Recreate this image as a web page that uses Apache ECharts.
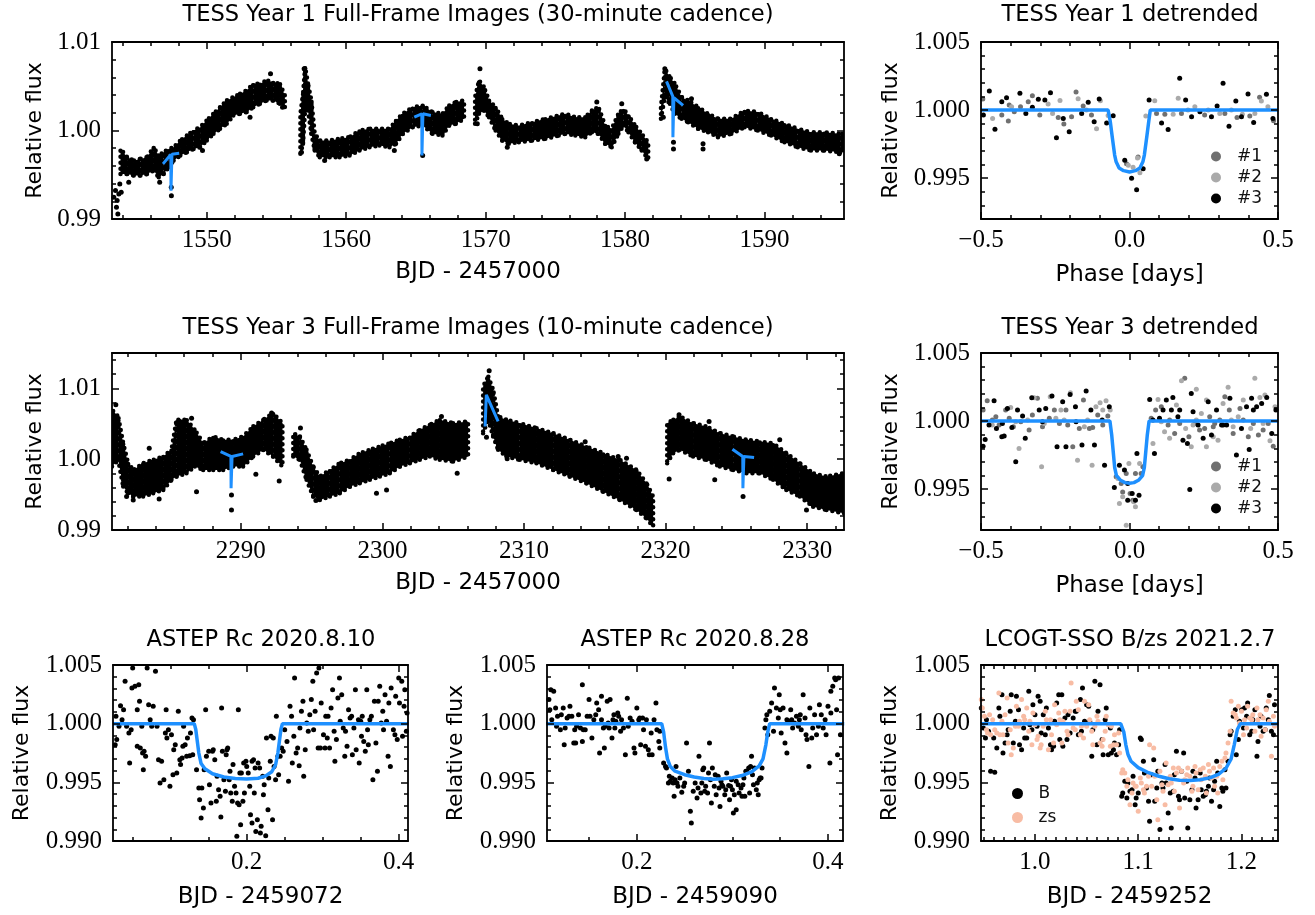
<!DOCTYPE html>
<html>
<head>
<meta charset="utf-8">
<title>Light curves</title>
<script src="https://cdn.jsdelivr.net/npm/echarts@6.0.0/dist/echarts.min.js"></script>
<style>
  html, body { margin: 0; padding: 0; background: #fff; }
  #main { width: 1315px; height: 915px; }
</style>
</head>
<body>
<div id="main"></div>
<script>
// ---- TESS Year 1 FFI: dense band [BJD, lower, upper] per orbit segment ----
var y1Band1 = [[1543.81,0.99509,0.99792],[1544.29,0.99509,0.99698],[1544.76,0.99491,0.99660],[1545.24,0.99491,0.99679],[1545.71,0.99509,0.99698],[1546.19,0.99547,0.99811],[1546.55,0.99472,0.99717],[1546.90,0.99509,0.99755],[1547.26,0.99585,0.99792],[1547.62,0.99660,0.99811],[1548.10,0.99717,0.99887],[1548.57,0.99755,0.99943],[1549.05,0.99792,1.00000],[1549.52,0.99811,1.00038],[1550.00,0.99887,1.00113],[1550.48,0.99962,1.00189],[1550.95,1.00019,1.00264],[1551.43,1.00075,1.00340],[1551.90,1.00170,1.00377],[1552.38,1.00189,1.00415],[1552.86,1.00208,1.00453],[1553.33,1.00264,1.00528],[1553.81,1.00302,1.00528],[1554.29,1.00340,1.00566],[1554.76,1.00340,1.00547],[1555.24,1.00302,1.00528],[1555.60,1.00264,1.00396]];
var y1Band2 = [[1556.71,0.99736,1.00189],[1556.90,0.99849,1.00415],[1557.05,1.00226,1.00717],[1557.26,1.00226,1.00528],[1557.50,0.99962,1.00340],[1557.74,0.99774,0.99962],[1558.10,0.99698,0.99887],[1558.81,0.99698,0.99887],[1559.52,0.99698,0.99906],[1560.24,0.99717,0.99925],[1560.95,0.99774,1.00000],[1561.67,0.99811,1.00019],[1562.38,0.99830,1.00019],[1563.10,0.99811,1.00019],[1563.57,0.99849,1.00113],[1564.05,0.99962,1.00189],[1564.76,1.00038,1.00264],[1565.48,1.00057,1.00283],[1566.19,0.99962,1.00208],[1566.90,0.99943,1.00189],[1567.38,1.00057,1.00283],[1567.86,1.00075,1.00321],[1568.45,1.00132,1.00340]];
var y1Band3 = [[1569.24,1.00075,1.00377],[1569.52,1.00189,1.00566],[1569.88,1.00226,1.00491],[1570.24,1.00151,1.00340],[1570.71,1.00000,1.00264],[1571.19,0.99887,1.00132],[1571.66,0.99849,1.00075],[1572.38,0.99868,1.00057],[1573.33,0.99887,1.00094],[1574.28,0.99906,1.00132],[1575.24,0.99943,1.00170],[1575.71,0.99962,1.00189],[1576.43,0.99943,1.00151],[1577.14,0.99925,1.00151],[1577.62,0.99981,1.00226],[1578.09,0.99962,1.00264],[1578.57,0.99849,1.00057],[1579.04,0.99811,1.00019],[1579.52,0.99962,1.00189],[1579.88,1.00057,1.00245],[1580.24,0.99981,1.00170],[1580.71,0.99868,1.00057],[1581.19,0.99774,0.99962],[1581.66,0.99679,0.99868]];
var y1Band4 = [[1582.57,1.00132,1.00264],[1582.85,1.00377,1.00698],[1583.21,1.00302,1.00604],[1583.57,1.00189,1.00528],[1584.05,1.00132,1.00377],[1584.52,1.00094,1.00340],[1585.24,1.00019,1.00264],[1585.95,0.99981,1.00189],[1586.66,0.99925,1.00132],[1587.62,0.99962,1.00132],[1588.57,1.00038,1.00226],[1589.52,1.00000,1.00208],[1590.47,0.99943,1.00132],[1591.43,0.99868,1.00075],[1592.38,0.99811,1.00019],[1593.33,0.99774,0.99981],[1594.28,0.99774,0.99981],[1595.43,0.99755,0.99962],[1595.70,0.99755,0.99962]];
var y1Out = [[1543.45,0.99321],[1543.57,0.99208],[1543.69,0.99283],[1543.52,0.99132],[1543.62,0.99057],[1543.33,0.99245],[1543.86,0.99302],[1543.76,0.99396],[1544.40,0.99415],[1546.62,0.99415],[1547.45,0.99358],[1547.46,0.99264],[1549.69,0.99774],[1553.10,1.00151],[1554.57,1.00642],[1555.43,1.00264],[1556.79,0.99755],[1556.98,1.00698],[1558.45,0.99660],[1563.45,0.99774],[1565.48,0.99717],[1569.59,1.00698],[1569.40,1.00075],[1571.55,0.99811],[1577.97,1.00321],[1579.76,1.00302],[1581.55,0.99679],[1582.85,1.00698],[1582.74,1.00151],[1583.47,0.99792],[1583.47,0.99868],[1584.76,1.00358],[1585.59,0.99792],[1585.59,0.99849],[1595.36,0.99736]];
var y1Model1 = [[1546.86,0.99623],[1547.42,0.99729],[1547.43,0.99320],[1547.49,0.99320],[1547.50,0.99732],[1548.02,0.99744]];
var y1Model2 = [[1564.88,1.00151],[1565.42,1.00189],[1565.43,0.99717],[1565.49,0.99717],[1565.50,1.00189],[1566.07,1.00170]];
var y1Model3 = [[1582.97,1.00555],[1583.42,1.00385],[1583.43,0.99925],[1583.49,0.99925],[1583.50,1.00370],[1584.16,1.00283]];

// ---- TESS Year 3 FFI ----
var y3Band1 = [[2280.90,0.99896,1.00698],[2281.34,0.99991,1.00604],[2281.69,0.99613,1.00226],[2282.04,0.99519,0.99943],[2282.40,0.99472,0.99849],[2283.10,0.99472,0.99943],[2283.81,0.99519,0.99991],[2284.52,0.99566,1.00038],[2285.10,0.99708,1.00132],[2285.46,0.99755,1.00557],[2286.16,0.99802,1.00557],[2286.75,0.99896,1.00415],[2287.34,0.99849,1.00226],[2288.05,0.99849,1.00321],[2288.75,0.99849,1.00274],[2289.46,0.99896,1.00274],[2290.16,0.99896,1.00321],[2290.87,1.00038,1.00462],[2291.58,1.00132,1.00557],[2292.28,1.00038,1.00651],[2292.94,0.99896,1.00509]];
var y3Band2 = [[2293.70,1.00038,1.00368],[2294.17,0.99991,1.00321],[2294.64,0.99708,1.00132],[2295.11,0.99472,0.99896],[2295.58,0.99425,0.99755],[2296.29,0.99472,0.99849],[2296.99,0.99519,0.99943],[2297.70,0.99613,0.99991],[2298.40,0.99660,1.00085],[2299.11,0.99708,1.00132],[2299.82,0.99755,1.00179],[2300.52,0.99802,1.00226],[2301.23,0.99896,1.00274],[2301.94,0.99943,1.00321],[2302.64,0.99991,1.00415],[2303.35,1.00038,1.00486],[2304.05,0.99991,1.00557],[2304.99,0.99967,1.00509],[2306.05,1.00038,1.00533]];
var y3Band3 = [[2307.11,1.00368,1.01028],[2307.47,1.00557,1.01170],[2307.82,1.00321,1.00981],[2308.17,1.00132,1.00604],[2308.76,1.00038,1.00557],[2309.70,0.99991,1.00509],[2310.88,0.99943,1.00439],[2312.06,0.99849,1.00368],[2313.23,0.99755,1.00274],[2314.41,0.99660,1.00179],[2315.59,0.99542,1.00085],[2316.77,0.99425,0.99991],[2317.94,0.99283,0.99849],[2318.65,0.99165,0.99660],[2319.12,0.99047,0.99472]];
var y3Band4 = [[2320.11,0.99943,1.00509],[2320.53,1.00085,1.00557],[2321.00,1.00132,1.00604],[2321.94,1.00038,1.00509],[2322.88,0.99991,1.00462],[2323.83,0.99896,1.00368],[2324.77,0.99849,1.00321],[2325.71,0.99802,1.00274],[2326.65,0.99802,1.00250],[2327.59,0.99708,1.00226],[2328.53,0.99566,1.00085],[2329.48,0.99472,0.99943],[2330.42,0.99330,0.99802],[2331.36,0.99283,0.99755],[2332.60,0.99236,0.99802]];
var y3Out = [[2281.17,1.00769],[2281.93,0.99472],[2282.40,0.99425],[2283.53,1.00156],[2284.23,0.99439],[2285.69,1.00533],[2286.52,1.00580],[2286.87,0.99542],[2289.34,0.99495],[2289.34,0.99283],[2291.06,0.99788],[2292.17,1.00651],[2292.71,0.99693],[2294.21,1.00439],[2295.30,0.99415],[2299.58,0.99519],[2300.29,0.99566],[2304.17,1.00604],[2305.28,0.99802],[2307.54,1.01250],[2307.35,1.00311],[2308.81,1.00005],[2314.32,1.00245],[2316.65,1.00038],[2317.24,1.00014],[2320.25,0.99722],[2320.95,1.00627],[2323.07,1.00533],[2323.47,0.99708],[2325.47,0.99472],[2329.95,0.99283],[2328.06,1.00274]];
var y3Model1 = [[2288.57,1.00107],[2289.30,1.00040],[2289.31,0.99590],[2289.37,0.99590],[2289.38,1.00038],[2290.16,1.00075]];
var y3Model2 = [[2307.25,1.00462],[2307.33,1.00462],[2307.34,1.00910],[2308.17,1.00533]];
var y3Model3 = [[2324.72,1.00141],[2325.45,1.00037],[2325.46,0.99590],[2325.52,0.99590],[2325.53,1.00037],[2326.25,1.00023]];

// ---- detrended, phase folded ----
var d1s1 = [[-0.494,1.00081],[-0.430,0.99963],[-0.405,1.00037],[-0.408,0.99919],[-0.388,0.99988],[-0.367,1.00025],[-0.341,1.00062],[-0.327,1.00106],[-0.302,0.99963],[-0.240,0.99946],[-0.221,0.99897],[-0.195,0.99951],[-0.180,1.00133],[-0.156,1.00030],[-0.128,0.99963],[0.029,0.99655],[-0.010,0.99606],[0.091,0.99975],[0.119,0.99970],[0.175,0.99975],[0.253,0.99963],[0.321,0.99975],[0.362,0.99946],[0.405,0.99956],[0.438,1.00094],[0.485,0.99921]];
var d1s2 = [[-0.461,0.99938],[-0.397,1.00025],[-0.274,1.00044],[-0.259,0.99975],[-0.234,1.00071],[-0.173,1.00084],[-0.145,1.00000],[-0.111,0.99862],[-0.098,1.00069],[-0.072,0.99961],[-0.004,0.99594],[0.012,0.99581],[0.027,0.99648],[0.035,0.99539],[0.055,0.99956],[0.085,1.00069],[0.147,0.99970],[0.164,1.00086],[0.197,1.00000],[0.220,1.00025],[0.265,1.00000],[0.304,0.99975],[0.343,1.00000],[0.380,0.99970],[0.422,0.99975],[0.444,1.00067],[0.466,1.00025]];
var d1s3 = [[-0.492,0.99963],[-0.472,1.00140],[-0.453,0.99860],[-0.430,1.00062],[-0.414,1.00091],[-0.369,1.00123],[-0.349,0.99975],[-0.327,1.00020],[-0.307,1.00079],[-0.285,1.00074],[-0.266,1.00128],[-0.246,0.99796],[-0.223,0.99938],[-0.203,0.99840],[-0.161,0.99975],[-0.139,1.00057],[-0.119,0.99914],[-0.102,1.00081],[-0.077,0.99906],[-0.055,0.99958],[-0.016,0.99631],[0.007,0.99500],[0.024,0.99414],[0.046,0.99569],[0.066,1.00074],[0.108,0.99906],[0.130,0.99857],[0.169,1.00234],[0.189,1.00074],[0.209,0.99951],[0.237,0.99988],[0.276,0.99951],[0.295,1.00030],[0.315,1.00197],[0.335,0.99882],[0.358,1.00067],[0.377,0.99951],[0.399,1.00118],[0.418,0.99909],[0.461,1.00116],[0.483,0.99938]];
var d1Model = [[-0.5,1],[-0.072,1],[-0.065,0.9992],[-0.058,0.9980],[-0.050,0.9967],[-0.045,0.9962],[-0.035,0.99575],[-0.020,0.99555],[0,0.99545],[0.020,0.99555],[0.035,0.99575],[0.045,0.9962],[0.050,0.9967],[0.058,0.9980],[0.065,0.9992],[0.070,1],[0.5,1]];

var d3s1 = [[-0.493,1.00081],[-0.479,1.00150],[-0.450,1.00032],[-0.439,0.99971],[-0.417,1.00081],[-0.405,1.00020],[-0.391,0.99958],[-0.366,0.99995],[-0.338,0.99934],[-0.310,1.00167],[-0.293,0.99958],[-0.270,1.00020],[-0.253,1.00081],[-0.236,0.99983],[-0.208,0.99971],[-0.191,0.99811],[-0.169,0.99946],[-0.155,1.00154],[-0.135,0.99946],[-0.124,0.99953],[-0.107,1.00044],[-0.073,1.00037],[-0.045,0.99591],[-0.028,0.99542],[-0.011,0.99615],[0.002,0.99468],[0.020,0.99615],[0.039,0.99615],[0.011,0.99419],[-0.023,0.99480],[0.045,0.99664],[0.073,1.00020],[0.088,1.00081],[0.107,1.00105],[0.130,0.99971],[0.152,0.99909],[0.169,0.99983],[0.186,1.00314],[0.200,0.99885],[0.220,0.99983],[0.236,0.99934],[0.253,0.99946],[0.270,1.00032],[0.287,0.99983],[0.304,1.00007],[0.321,1.00179],[0.336,1.00081],[0.349,0.99909],[0.372,1.00093],[0.400,0.99885],[0.417,0.99983],[0.434,0.99897],[0.450,0.99934],[0.467,0.99983],[0.484,0.99816],[-0.462,1.00007],[-0.327,1.00044],[-0.214,1.00081],[-0.090,0.99971],[0.135,1.00007],[0.282,0.99958],[0.383,1.00007]];
var d3s2 = [[-0.462,0.99971],[-0.400,1.00100],[-0.372,0.99799],[-0.343,1.00007],[-0.321,1.00172],[-0.296,0.99664],[-0.287,0.99983],[-0.267,1.00179],[-0.231,1.00081],[-0.220,1.00007],[-0.199,1.00208],[-0.175,0.99713],[-0.141,1.00007],[-0.126,0.99676],[-0.113,1.00105],[-0.099,1.00135],[-0.090,1.00081],[-0.079,1.00150],[-0.065,1.00081],[-0.039,0.99578],[-0.023,0.99444],[-0.002,0.99689],[0.014,0.99407],[0.034,0.99689],[-0.011,0.99235],[0.020,0.99370],[-0.034,0.99395],[0.079,0.99836],[0.096,1.00159],[0.118,0.99922],[0.135,0.99873],[0.158,1.00118],[0.175,1.00297],[0.189,0.99946],[0.208,0.99811],[0.225,1.00007],[0.242,1.00056],[0.259,1.00154],[0.282,0.99885],[0.298,0.99860],[0.315,1.00130],[0.332,1.00248],[0.343,1.00007],[0.366,1.00032],[0.383,1.00154],[0.408,0.99946],[0.422,1.00314],[0.439,1.00174],[0.456,1.00191],[0.473,0.99855],[0.490,1.00105],[0.225,1.00233],[0.259,0.99811],[-0.383,0.99995],[-0.248,1.00020],[-0.152,0.99958],[0.107,0.99995],[0.214,0.99971],[0.349,0.99958],[0.450,0.99983]];
var d3s3 = [[-0.493,0.99816],[-0.486,0.99865],[-0.473,0.99971],[-0.456,1.00150],[-0.448,0.99946],[-0.430,0.99885],[-0.422,0.99890],[-0.411,1.00093],[-0.396,0.99953],[-0.383,0.99701],[-0.377,1.00081],[-0.360,1.00037],[-0.351,0.99873],[-0.329,1.00172],[-0.304,1.00081],[-0.282,1.00093],[-0.261,1.00184],[-0.244,0.99811],[-0.225,1.00142],[-0.214,0.99811],[-0.200,1.00196],[-0.182,1.00105],[-0.160,0.99824],[-0.146,1.00221],[-0.130,1.00081],[-0.118,0.99824],[-0.092,1.00007],[-0.084,0.99676],[-0.068,1.00105],[-0.051,0.99512],[-0.034,0.99676],[-0.017,0.99640],[-0.006,0.99542],[0.009,0.99468],[0.025,0.99762],[0.032,0.99456],[-0.006,0.99419],[0.020,0.99419],[0.068,1.00159],[0.084,0.99762],[0.101,1.00020],[0.113,1.00081],[0.124,1.00154],[0.141,1.00081],[0.146,1.00174],[0.163,1.00032],[0.180,0.99860],[0.195,0.99836],[0.203,0.99498],[0.214,1.00069],[0.231,0.99971],[0.248,0.99873],[0.265,1.00142],[0.276,0.99897],[0.293,1.00081],[0.310,0.99971],[0.327,0.99971],[0.338,1.00167],[0.360,0.99750],[0.377,0.99946],[0.394,1.00105],[0.403,0.99792],[0.411,1.00167],[0.428,1.00105],[0.445,1.00130],[0.462,1.00174],[0.479,0.99909],[0.493,1.00081],[0.208,1.00203],[-0.428,0.99983],[-0.293,0.99995],[-0.180,0.99995],[0.079,1.00007],[0.169,1.00081],[0.315,0.99971],[0.417,1.00081]];
var d3Model = [[-0.5,1],[-0.066,1],[-0.060,0.9990],[-0.055,0.9978],[-0.050,0.9966],[-0.044,0.9960],[-0.030,0.99565],[-0.015,0.99548],[0,0.99544],[0.015,0.99548],[0.030,0.99565],[0.044,0.9960],[0.050,0.9966],[0.055,0.9978],[0.060,0.9990],[0.066,1],[0.5,1]];

// ---- ASTEP Rc 2020.8.10 ----
var a1Data = [[0.027,0.99821],[0.028,1.00063],[0.029,0.99864],[0.032,0.99977],[0.034,1.00153],[0.036,1.00034],[0.038,1.00119],[0.040,1.00361],[0.042,0.99977],[0.045,0.99920],[0.046,0.99665],[0.048,0.99949],[0.049,1.00304],[0.050,1.00474],[0.053,1.00318],[0.056,1.00119],[0.056,0.99807],[0.058,1.00332],[0.059,1.00190],[0.060,0.99793],[0.062,0.99977],[0.063,0.99750],[0.064,0.99608],[0.065,0.99764],[0.067,0.99722],[0.069,1.00474],[0.071,1.00162],[0.073,1.00034],[0.075,0.99977],[0.077,1.00148],[0.080,1.00446],[0.082,0.99977],[0.084,0.99693],[0.086,0.99494],[0.088,0.99679],[0.091,0.99523],[0.093,0.99920],[0.094,1.00119],[0.095,0.99878],[0.097,0.99949],[0.099,0.99466],[0.101,0.99906],[0.103,0.99565],[0.104,0.99778],[0.106,0.99821],[0.108,0.99580],[0.110,1.00105],[0.112,0.99693],[0.113,0.99651],[0.115,0.99707],[0.116,0.99807],[0.117,0.99977],[0.119,0.99821],[0.121,0.99722],[0.122,0.99878],[0.125,0.99727],[0.126,0.99920],[0.128,1.00048],[0.129,0.99736],[0.130,1.00034],
  [0.134,0.99608],[0.137,0.99452],[0.138,0.99352],[0.140,0.99196],[0.141,0.99452],[0.143,0.99281],[0.144,0.99608],[0.146,1.00119],[0.147,0.99722],[0.150,0.99764],[0.151,0.99480],[0.153,0.99324],[0.155,0.99764],[0.156,0.99778],[0.158,0.99693],[0.160,0.99338],[0.161,0.99551],[0.163,0.99437],[0.165,0.99381],[0.166,0.99205],[0.167,1.00134],[0.168,0.99764],[0.170,0.99523],[0.172,0.99423],[0.173,0.99736],[0.174,0.99778],[0.175,0.99793],[0.177,0.99523],[0.178,0.99594],[0.179,0.99409],[0.181,0.99338],[0.182,0.99651],[0.184,0.99466],[0.186,0.99409],[0.187,0.99040],[0.188,0.99324],[0.189,1.00119],[0.190,0.99310],[0.191,0.99580],[0.192,0.99139],[0.193,0.99580],[0.195,0.99338],[0.196,0.99665],[0.197,0.99409],[0.199,0.99679],[0.200,0.99636],[0.202,0.99580],[0.204,0.99466],[0.205,0.99224],[0.207,0.99153],[0.207,0.99679],[0.209,0.99693],[0.210,0.99409],[0.211,0.99622],[0.212,0.99082],[0.214,0.99182],[0.215,0.99665],[0.217,0.99622],[0.218,0.99068],[0.219,0.99125],[0.221,0.99551],[0.222,0.99395],[0.223,0.99480],[0.225,0.99045],[0.226,0.99878],[0.228,0.99267],[0.229,0.99537],[0.231,0.99679],[0.232,0.99892],[0.234,0.99182],[0.235,0.99878],[0.236,0.99636],[0.238,0.99523],[0.239,1.00063],[0.241,0.99722],[0.242,0.99565],
  [0.244,0.99722],[0.246,0.99793],[0.248,0.99764],[0.250,0.99949],[0.253,0.99849],[0.255,0.99509],[0.257,1.00148],[0.259,1.00063],[0.260,0.99665],[0.262,0.99892],[0.263,1.00389],[0.265,0.99750],[0.267,0.99793],[0.269,0.99642],[0.270,0.99963],[0.272,1.00105],[0.274,1.00190],[0.275,0.99551],[0.277,0.99778],[0.279,1.00006],[0.281,0.99935],[0.283,1.00077],[0.285,1.00205],[0.287,1.00361],[0.288,0.99949],[0.290,1.00105],[0.292,1.00432],[0.294,0.99793],[0.295,1.00474],[0.297,0.99793],[0.298,1.00176],[0.301,0.99906],[0.303,0.99793],[0.304,1.00063],[0.306,0.99878],[0.307,1.00063],[0.309,0.99793],[0.311,1.00134],[0.313,1.00290],[0.315,0.99935],[0.316,0.99679],[0.318,0.99864],[0.320,1.00219],[0.322,1.00389],[0.323,1.00020],[0.325,1.00247],[0.327,0.99963],[0.329,0.99722],[0.330,0.99935],[0.332,0.99807],[0.334,1.00119],[0.336,1.00048],[0.338,1.00063],[0.339,0.99736],[0.341,0.99963],[0.343,1.00290],[0.344,0.99778],[0.347,1.00034],[0.348,0.99665],[0.350,1.00020],[0.351,0.99892],[0.352,1.00063],[0.354,0.99849],[0.356,0.99764],[0.358,1.00290],[0.359,0.99949],[0.360,0.99821],[0.362,1.00034],[0.364,1.00063],[0.366,0.99523],[0.368,1.00190],[0.370,0.99835],[0.372,0.99594],[0.373,1.00190],[0.375,1.00318],[0.377,1.00006],[0.379,1.00105],[0.380,0.99949],[0.382,1.00247],[0.384,1.00020],[0.386,0.99722],[0.387,1.00176],[0.389,0.99636],[0.390,1.00304],[0.393,0.99949],[0.395,0.99906],[0.396,1.00233],[0.398,0.99864],[0.400,1.00389],[0.401,1.00176],[0.404,1.00361],[0.405,0.99892],[0.407,1.00148],[0.408,1.00290],[0.410,0.99935],[0.411,1.00091]];
var a1Model = [[0.024,1],[0.131,1],[0.133,0.9995],[0.135,0.9985],[0.137,0.9975],[0.140,0.9966],[0.145,0.99615],[0.155,0.99573],[0.170,0.99545],[0.185,0.99532],[0.200,0.99528],[0.215,0.99535],[0.225,0.99555],[0.233,0.9959],[0.238,0.9965],[0.241,0.9975],[0.243,0.9985],[0.245,0.9995],[0.247,1],[0.413,1]];

// ---- ASTEP Rc 2020.8.28 ----
var a2Data = [[0.108,1.00205],[0.109,1.00119],[0.110,1.00290],[0.111,1.00034],[0.113,1.00276],[0.115,1.00134],[0.116,0.99977],[0.117,1.00063],[0.120,0.99949],[0.121,1.00077],[0.123,1.00134],[0.124,0.99821],[0.125,0.99963],[0.127,1.00048],[0.129,1.00063],[0.130,1.00148],[0.132,1.00063],[0.134,0.99835],[0.135,0.99949],[0.136,0.99835],[0.137,0.99977],[0.139,1.00077],[0.141,0.99963],[0.143,0.99849],[0.143,1.00332],[0.144,0.99949],[0.146,0.99949],[0.148,1.00063],[0.150,1.00205],[0.151,1.00063],[0.153,0.99878],[0.155,1.00034],[0.157,1.00077],[0.158,1.00176],[0.160,1.00119],[0.161,0.99750],[0.163,1.00233],[0.163,1.00034],[0.165,0.99963],[0.166,0.99793],[0.167,0.99977],[0.169,1.00190],[0.170,1.00006],[0.171,0.99963],[0.172,1.00205],[0.174,0.99878],[0.175,1.00034],[0.176,1.00077],[0.177,0.99963],[0.178,1.00020],[0.180,1.00091],[0.181,1.00063],[0.183,0.99935],[0.184,1.00034],[0.186,0.99963],[0.188,0.99736],[0.190,1.00216],[0.191,0.99977],[0.193,1.00048],[0.195,1.00020],[0.197,0.99793],[0.198,0.99750],[0.200,1.00134],[0.202,1.00034],[0.203,1.00048],[0.204,0.99821],[0.206,1.00048],[0.207,0.99949],[0.209,0.99807],[0.210,1.00034],[0.212,0.99778],[0.213,0.99736],[0.215,0.99920],[0.216,0.99736],[0.218,1.00034],[0.220,1.00176],[0.221,0.99949],[0.223,0.99849],[0.224,0.99793],[0.224,0.99935],
  [0.228,0.99665],[0.230,0.99636],[0.231,0.99622],[0.233,0.99494],[0.234,0.99551],[0.235,0.99509],[0.237,0.99537],[0.238,0.99494],[0.239,0.99381],[0.240,0.99523],[0.241,0.99636],[0.242,0.99494],[0.243,0.99466],[0.245,0.99537],[0.247,0.99415],[0.249,0.99466],[0.250,0.99494],[0.252,0.99835],[0.254,0.99594],[0.256,0.99253],[0.257,0.99153],[0.259,0.99423],[0.261,0.99494],[0.263,0.99366],[0.264,0.99452],[0.265,0.99722],[0.267,0.99409],[0.268,0.99494],[0.269,0.99608],[0.270,0.99622],[0.271,0.99423],[0.272,0.99466],[0.274,0.99409],[0.275,0.99580],[0.276,0.99835],[0.277,0.99523],[0.278,0.99324],[0.279,0.99622],[0.281,0.99466],[0.282,0.99565],[0.283,0.99395],[0.285,0.99551],[0.286,0.99452],[0.287,0.99295],[0.288,0.99509],[0.289,0.99480],[0.290,0.99466],[0.292,0.99395],[0.293,0.99437],[0.294,0.99580],[0.296,0.99474],[0.297,0.99352],[0.298,0.99466],[0.299,0.99523],[0.300,0.99437],[0.301,0.99239],[0.302,0.99395],[0.304,0.99267],[0.304,0.99509],[0.306,0.99480],[0.307,0.99409],[0.309,0.99452],[0.310,0.99381],[0.311,0.99480],[0.312,0.99537],[0.313,0.99381],[0.314,0.99594],[0.315,0.99594],[0.317,0.99622],[0.318,0.99409],[0.319,0.99636],[0.320,0.99722],[0.321,0.99565],[0.322,0.99480],[0.323,0.99622],[0.325,0.99437],[0.326,0.99494],[0.327,0.99395],[0.328,0.99523],[0.329,0.99537],[0.330,0.99537],[0.331,0.99622],
  [0.334,0.99963],[0.335,1.00034],[0.336,1.00077],[0.337,0.99906],[0.339,1.00105],[0.341,1.00176],[0.343,0.99935],[0.344,1.00304],[0.346,1.00134],[0.348,1.00048],[0.349,1.00247],[0.350,1.00119],[0.351,0.99920],[0.353,1.00134],[0.355,0.99835],[0.357,1.00034],[0.357,0.99750],[0.359,1.00020],[0.361,1.00119],[0.362,1.00034],[0.363,0.99963],[0.365,1.00006],[0.367,1.00063],[0.369,0.99977],[0.370,1.00034],[0.371,1.00077],[0.372,0.99949],[0.374,1.00247],[0.376,1.00048],[0.377,0.99906],[0.378,0.99864],[0.380,0.99636],[0.381,1.00134],[0.383,0.99878],[0.384,0.99963],[0.386,1.00077],[0.388,0.99906],[0.390,0.99977],[0.391,1.00162],[0.393,1.00077],[0.395,0.99963],[0.397,1.00034],[0.398,0.99906],[0.400,1.00148],[0.402,0.99665],[0.403,1.00276],[0.403,1.00091],[0.405,1.00318],[0.407,1.00389],[0.408,1.00375],[0.409,1.00119],[0.410,0.99736],[0.411,1.00389],[0.413,0.99906]];
var a2Model = [[0.105,1],[0.226,1],[0.228,0.9993],[0.230,0.9980],[0.232,0.9970],[0.235,0.99635],[0.240,0.99595],[0.250,0.99565],[0.260,0.99545],[0.270,0.99532],[0.280,0.99527],[0.290,0.99530],[0.300,0.99540],[0.310,0.99558],[0.320,0.9959],[0.328,0.9964],[0.332,0.9970],[0.335,0.9982],[0.337,0.9993],[0.339,1],[0.417,1]];

// ---- LCOGT-SSO 2021.2.7, B and zs ----
var lcB = [[0.948,1.00134],[0.950,0.99963],[0.952,0.99878],[0.953,1.00034],[0.955,0.99935],[0.957,0.99594],[0.960,0.99878],[0.961,0.99585],[0.963,0.99793],[0.965,1.00134],[0.966,1.00063],[0.968,1.00247],[0.969,0.99750],[0.971,0.99835],[0.973,0.99906],[0.974,0.99949],[0.976,1.00105],[0.977,1.00247],[0.979,0.99835],[0.981,1.00020],[0.982,1.00233],[0.984,1.00119],[0.985,0.99821],[0.987,0.99778],[0.989,0.99963],[0.990,0.99878],[0.992,0.99878],[0.994,1.00276],[0.995,0.99991],[0.997,0.99949],[0.998,1.00162],[1.000,1.00077],[1.002,0.99977],[1.003,1.00233],[1.005,1.00190],[1.006,0.99920],[1.008,1.00077],[1.010,0.99906],[1.011,1.00134],[1.013,0.99963],[1.015,0.99821],[1.016,0.99778],[1.018,0.99807],[1.019,1.00020],[1.021,1.00176],[1.023,1.00247],[1.024,0.99864],[1.026,1.00247],[1.027,0.99807],[1.029,1.00048],[1.031,0.99864],[1.032,1.00077],[1.034,0.99920],[1.037,1.00048],[1.039,1.00105],[1.040,1.00105],[1.042,0.99906],[1.044,1.00205],[1.045,0.99935],[1.046,1.00304],[1.048,1.00020],[1.050,1.00162],[1.052,1.00148],[1.053,1.00020],[1.055,0.99722],[1.056,0.99949],[1.058,1.00361],[1.060,0.99821],[1.061,1.00105],[1.063,1.00332],[1.065,0.99864],[1.066,0.99736],[1.068,1.00034],[1.069,1.00134],[1.071,0.99736],[1.073,0.99963],[1.074,0.99750],[1.076,0.99778],[1.077,0.99835],[1.079,0.99736],[1.081,0.99821],[1.082,0.99949],
  [1.084,0.99381],[1.085,0.99409],[1.087,0.99509],[1.089,0.99366],[1.090,0.99494],[1.092,0.99423],[1.094,0.99437],[1.095,0.99551],[1.097,0.99310],[1.098,0.99366],[1.100,0.99409],[1.102,0.99878],[1.103,0.99864],[1.105,0.99679],[1.106,0.99580],[1.108,0.99452],[1.110,0.99338],[1.111,0.99168],[1.113,0.99565],[1.115,0.99693],[1.116,0.99338],[1.118,0.99452],[1.119,0.99594],[1.121,0.99097],[1.123,0.99494],[1.124,0.99452],[1.126,0.99651],[1.127,0.99494],[1.129,0.99239],[1.131,0.99409],[1.132,0.99111],[1.134,0.99423],[1.135,0.99565],[1.137,0.99764],[1.139,0.99381],[1.140,0.99352],[1.142,0.99594],[1.144,0.99750],[1.145,0.99366],[1.147,0.99509],[1.148,0.99111],[1.150,0.99352],[1.152,0.99437],[1.153,0.99594],[1.155,0.99537],[1.156,0.99281],[1.158,0.99352],[1.160,0.99580],[1.161,0.99437],[1.163,0.99381],[1.165,0.99395],[1.166,0.99423],[1.168,0.99466],[1.169,0.99537],[1.171,0.99338],[1.173,0.99437],[1.174,0.99509],[1.176,0.99679],[1.177,0.99580],[1.179,0.99295],[1.181,0.99452],[1.182,0.99423],[1.184,0.99608],[1.185,0.99452],[1.187,0.99679],
  [1.189,0.99906],[1.190,0.99935],[1.192,1.00063],[1.194,1.00119],[1.195,0.99736],[1.197,0.99864],[1.198,1.00020],[1.200,1.00119],[1.202,0.99963],[1.203,1.00134],[1.205,1.00063],[1.206,1.00176],[1.208,0.99906],[1.210,0.99935],[1.211,1.00034],[1.213,1.00119],[1.215,0.99722],[1.216,0.99849],[1.218,0.99977],[1.219,1.00063],[1.221,0.99935],[1.223,0.99949],[1.224,1.00134],[1.226,1.00034],[1.227,1.00239],[1.229,0.99935],[1.231,0.99906],[1.232,1.00162]];
var lcZ = [[0.948,1.00205],[0.949,1.00134],[0.951,1.00063],[0.953,0.99949],[0.954,0.99920],[0.956,1.00077],[0.957,0.99906],[0.959,1.00034],[0.961,0.99949],[0.963,0.99920],[0.965,1.00261],[0.966,0.99906],[0.968,1.00020],[0.969,0.99906],[0.971,1.00077],[0.973,1.00219],[0.974,0.99835],[0.976,0.99949],[0.977,0.99736],[0.979,0.99793],[0.981,0.99977],[0.982,1.00148],[0.984,0.99977],[0.985,1.00020],[0.987,1.00205],[0.989,1.00063],[0.990,1.00034],[0.992,1.00134],[0.994,0.99935],[0.995,1.00020],[0.997,0.99821],[0.998,1.00091],[1.000,0.99991],[1.002,0.99864],[1.003,0.99892],[1.005,0.99793],[1.006,0.99821],[1.008,0.99977],[1.010,1.00105],[1.011,1.00034],[1.013,0.99778],[1.015,1.00034],[1.016,0.99906],[1.018,0.99835],[1.019,1.00162],[1.021,0.99991],[1.023,1.00091],[1.024,1.00034],[1.026,0.99835],[1.027,1.00020],[1.029,1.00105],[1.031,0.99935],[1.032,0.99906],[1.034,1.00105],[1.035,1.00347],[1.037,0.99963],[1.039,0.99949],[1.040,1.00190],[1.042,1.00119],[1.044,0.99906],[1.045,0.99977],[1.047,0.99878],[1.048,1.00190],[1.050,0.99977],[1.052,1.00162],[1.053,1.00034],[1.055,0.99935],[1.056,0.99821],[1.058,0.99977],[1.060,1.00063],[1.061,1.00020],[1.063,0.99835],[1.065,0.99807],[1.066,0.99864],[1.068,0.99935],[1.069,1.00063],[1.071,0.99991],[1.073,0.99807],[1.074,0.99977],[1.076,0.99821],[1.077,0.99906],[1.079,0.99821],[1.081,0.99920],[1.082,0.99750],
  [1.084,0.99580],[1.085,0.99608],[1.087,0.99580],[1.089,0.99466],[1.090,0.99523],[1.092,0.99310],[1.094,0.99409],[1.095,0.99494],[1.097,0.99466],[1.098,0.99466],[1.100,0.99253],[1.102,0.99537],[1.103,0.99494],[1.105,0.99437],[1.106,0.99409],[1.108,0.99466],[1.110,0.99551],[1.111,0.99821],[1.113,0.99466],[1.115,0.99793],[1.116,0.99551],[1.118,0.99352],[1.119,0.99182],[1.121,0.99594],[1.123,0.99480],[1.124,0.99423],[1.126,0.99310],[1.127,0.99665],[1.129,0.99480],[1.131,0.99551],[1.132,0.99494],[1.134,0.99622],[1.135,0.99423],[1.137,0.99580],[1.139,0.99622],[1.140,0.99281],[1.142,0.99594],[1.144,0.99494],[1.145,0.99523],[1.147,0.99565],[1.148,0.99622],[1.150,0.99551],[1.152,0.99423],[1.153,0.99466],[1.155,0.99636],[1.156,0.99580],[1.158,0.99437],[1.160,0.99608],[1.161,0.99523],[1.163,0.99622],[1.165,0.99551],[1.166,0.99409],[1.168,0.99651],[1.169,0.99594],[1.171,0.99537],[1.173,0.99622],[1.174,0.99466],[1.176,0.99551],[1.177,0.99409],[1.179,0.99636],[1.181,0.99679],[1.182,0.99523],[1.184,0.99707],[1.185,0.99750],[1.187,0.99835],
  [1.189,0.99935],[1.190,1.00190],[1.192,1.00091],[1.194,1.00077],[1.195,1.00048],[1.197,1.00148],[1.198,1.00006],[1.200,1.00105],[1.202,0.99906],[1.203,1.00034],[1.205,0.99963],[1.206,1.00148],[1.208,1.00048],[1.210,1.00034],[1.211,1.00077],[1.213,0.99935],[1.215,1.00134],[1.216,1.00034],[1.218,1.00077],[1.219,0.99892],[1.221,1.00048],[1.223,0.99949],[1.224,1.00119],[1.226,1.00190],[1.227,1.00020],[1.229,0.99722],[1.231,1.00063],[1.232,0.99977]];
var lcModel = [[0.947,1],[1.083,1],[1.086,0.9993],[1.088,0.9982],[1.090,0.9974],[1.093,0.9968],[1.100,0.99625],[1.110,0.99582],[1.120,0.99552],[1.130,0.99530],[1.140,0.99518],[1.150,0.99515],[1.160,0.99522],[1.170,0.99540],[1.178,0.99570],[1.185,0.9962],[1.190,0.9970],[1.193,0.9982],[1.196,0.9995],[1.199,1],[1.236,1]];

// ---- axis ticks ----
function range(a, b, s) {
  var out = [];
  for (var i = 0; a + i * s <= b + s / 1000; i++) out.push(+(a + i * s).toFixed(6));
  return out;
}
var tessX1Major = [1550, 1560, 1570, 1580, 1590];
var tessX3Major = [2290, 2300, 2310, 2320, 2330];
var tessYMajor = [0.99, 1.00, 1.01];
var phaseMajor = [-0.5, 0, 0.5];
var detYMajor = [0.995, 1.000, 1.005];
var groundYMajor = [0.990, 0.995, 1.000, 1.005];
var astepXMajor = [0.2, 0.4];
var lcXMajor = [1.0, 1.1, 1.2];

var BLUE = '#1e90ff';
var SERIF = 'Liberation Serif';
var SANS = 'DejaVu Sans';
var xAxes = [], yAxes = [], grids = [], series = [];

function fmt(dec) {
  return function (v) { return v.toFixed(dec).replace('-', '\u2212'); };
}

function panel(box, p) {
  var g = grids.length;
  grids.push({ left: box[0], top: box[1], width: box[2], height: box[3], outerBoundsMode: 'none' });
  var line = { color: '#000', width: 1.8 };
  var tl = { color: '#000', width: 1.5 };
  var xi = xAxes.length, yi = yAxes.length;
  function ax(pos, lo, hi, maj, mnr, extra) {
    var list = [];
    list.push(Object.assign({
      gridIndex: g, type: 'value', min: lo, max: hi, position: pos, z: 6,
      splitLine: { show: false },
      axisLine: { show: true, onZero: false, lineStyle: line },
      axisTick: { show: true, inside: true, length: 7, customValues: maj, lineStyle: tl },
      axisLabel: { show: false }
    }, extra || {}));
    list.push({
      gridIndex: g, type: 'value', min: lo, max: hi, position: pos, z: 6,
      splitLine: { show: false },
      axisLine: { show: false, onZero: false },
      axisTick: { show: true, inside: true, length: 4, customValues: mnr, lineStyle: tl },
      axisLabel: { show: false }
    });
    return list;
  }
  var xNameStyle = { fontFamily: SANS, fontSize: 23, color: '#000' };
  var yNameStyle = { fontFamily: SANS, fontSize: 22, color: '#000' };
  var xLab = {
    axisLabel: { show: true, customValues: p.xMaj, formatter: fmt(p.xDec), margin: 9,
      fontFamily: SERIF, fontSize: 25, color: '#000', showMinLabel: true, showMaxLabel: true, hideOverlap: false },
    name: p.xName, nameLocation: 'middle', nameGap: p.xGap, nameTextStyle: xNameStyle
  };
  var yLab = {
    axisLabel: { show: true, customValues: p.yMaj, formatter: fmt(p.yDec), margin: 11,
      fontFamily: SERIF, fontSize: 25, color: '#000', showMinLabel: true, showMaxLabel: true, hideOverlap: false },
    name: 'Relative flux', nameLocation: 'middle', nameGap: p.yGap, nameRotate: 90, nameTextStyle: yNameStyle
  };
  xAxes.push.apply(xAxes, ax('bottom', p.x[0], p.x[1], p.xMaj, p.xMin, xLab));
  xAxes.push.apply(xAxes, ax('top', p.x[0], p.x[1], p.xMaj, p.xMin));
  yAxes.push.apply(yAxes, ax('left', p.y[0], p.y[1], p.yMaj, p.yMin, yLab));
  yAxes.push.apply(yAxes, ax('right', p.y[0], p.y[1], p.yMaj, p.yMin));
  return { xAxisIndex: xi, yAxisIndex: yi };
}

// dense photometry drawn as a filled envelope, dotted rim mimics the point edge
function bandRender(params, api) {
  var i = params.dataIndexInside;
  if (i >= params.dataInsideLength - 1) return null;
  if (api.value(3, i) !== api.value(3, i + 1)) return null;
  var a = api.coord([api.value(0, i), api.value(1, i)]);
  var b = api.coord([api.value(0, i + 1), api.value(1, i + 1)]);
  var c = api.coord([api.value(0, i + 1), api.value(2, i + 1)]);
  var d = api.coord([api.value(0, i), api.value(2, i)]);
  return { type: 'polygon', shape: { points: [a, b, c, d] },
    style: { fill: '#000', stroke: '#000', lineWidth: 4.5, lineDash: [0, 6], lineCap: 'round', lineJoin: 'round' } };
}
function bandSeries(ax, segs) {
  var data = [];
  segs.forEach(function (s, k) { s.forEach(function (r) { data.push([r[0], r[1], r[2], k]); }); });
  return Object.assign({ type: 'custom', renderItem: bandRender, data: data, clip: true, z: 2,
    encode: { x: 0, y: [1, 2] }, silent: true }, ax);
}
function dots(ax, name, data, color, size) {
  return Object.assign({ type: 'scatter', name: name, data: data, symbolSize: size,
    itemStyle: { color: color, opacity: 1 }, z: 3, clip: true, silent: true }, ax);
}
function model(ax, data, w) {
  return Object.assign({ type: 'line', data: data, showSymbol: false, symbol: 'none', clip: true, z: 4,
    lineStyle: { color: BLUE, width: w }, silent: true }, ax);
}

// Panel A: TESS Year 1 FFI
var pA = panel([112, 42, 732, 177], {
  x: [1543.2, 1595.7], xMaj: tessX1Major, xMin: range(1544, 1594, 2), xDec: 0,
  y: [0.99, 1.01], yMaj: tessYMajor, yMin: range(0.992, 1.008, 0.002), yDec: 2,
  xName: 'BJD - 2457000', xGap: 42, yGap: 64
});
series.push(bandSeries(pA, [y1Band1, y1Band2, y1Band3, y1Band4]));
series.push(dots(pA, 'y1', y1Out, '#000', 5));
[y1Model1, y1Model2, y1Model3].forEach(function (m) { series.push(model(pA, m, 3)); });

// Panel B: Year 1 detrended
var pB = panel([981, 42, 297, 177], {
  x: [-0.5, 0.5], xMaj: phaseMajor, xMin: range(-0.4, 0.4, 0.1), xDec: 1,
  y: [0.992, 1.005], yMaj: detYMajor, yMin: range(0.992, 1.004, 0.001), yDec: 3,
  xName: 'Phase [days]', xGap: 45, yGap: 79
});
series.push(dots(pB, '#1', d1s1, '#707070', 5));
series.push(dots(pB, '#2', d1s2, '#aaaaaa', 5));
series.push(dots(pB, '#3', d1s3, '#000000', 5));
series.push(model(pB, d1Model, 3.5));

// Panel C: TESS Year 3 FFI
var pC = panel([112, 353, 732, 177], {
  x: [2280.9, 2332.6], xMaj: tessX3Major, xMin: range(2282, 2332, 2), xDec: 0,
  y: [0.99, 1.015], yMaj: tessYMajor, yMin: range(0.992, 1.014, 0.002), yDec: 2,
  xName: 'BJD - 2457000', xGap: 42, yGap: 64
});
series.push(bandSeries(pC, [y3Band1, y3Band2, y3Band3, y3Band4]));
series.push(dots(pC, 'y3', y3Out, '#000', 5));
[y3Model1, y3Model2, y3Model3].forEach(function (m) { series.push(model(pC, m, 3)); });

// Panel D: Year 3 detrended
var pD = panel([981, 353, 297, 177], {
  x: [-0.5, 0.5], xMaj: phaseMajor, xMin: range(-0.4, 0.4, 0.1), xDec: 1,
  y: [0.992, 1.005], yMaj: detYMajor, yMin: range(0.992, 1.004, 0.001), yDec: 3,
  xName: 'Phase [days]', xGap: 45, yGap: 79
});
series.push(dots(pD, '#1', d3s1, '#707070', 5));
series.push(dots(pD, '#2', d3s2, '#aaaaaa', 5));
series.push(dots(pD, '#3', d3s3, '#000000', 5));
series.push(model(pD, d3Model, 3.5));

// Panel E: ASTEP 2020.8.10
var pE = panel([113, 665, 295, 176], {
  x: [0.0241, 0.4122], xMaj: astepXMajor, xMin: [0.05, 0.1, 0.15, 0.25, 0.3, 0.35], xDec: 1,
  y: [0.990, 1.005], yMaj: groundYMajor, yMin: range(0.991, 1.004, 0.001), yDec: 3,
  xName: 'BJD - 2459072', xGap: 45, yGap: 80
});
series.push(dots(pE, 'a1', a1Data, '#000', 5));
series.push(model(pE, a1Model, 3.5));

// Panel F: ASTEP 2020.8.28
var pF = panel([547, 665, 296, 176], {
  x: [0.106, 0.4157], xMaj: astepXMajor, xMin: [0.15, 0.25, 0.3, 0.35], xDec: 1,
  y: [0.990, 1.005], yMaj: groundYMajor, yMin: range(0.991, 1.004, 0.001), yDec: 3,
  xName: 'BJD - 2459090', xGap: 45, yGap: 80
});
series.push(dots(pF, 'a2', a2Data, '#000', 5));
series.push(model(pF, a2Model, 3.5));

// Panel G: LCOGT-SSO
var pG = panel([981, 665, 297, 176], {
  x: [0.9477, 1.2354], xMaj: lcXMajor, xMin: range(0.95, 1.23, 0.01), xDec: 1,
  y: [0.990, 1.005], yMaj: groundYMajor, yMin: range(0.991, 1.004, 0.001), yDec: 3,
  xName: 'BJD - 2459252', xGap: 45, yGap: 80
});
series.push(dots(pG, 'B', lcB, '#000', 5));
series.push(dots(pG, 'zs', lcZ, '#f8bca4', 5));
series.push(model(pG, lcModel, 3.5));

var titles = [
  ['TESS Year 1 Full-Frame Images (30-minute cadence)', 478, 4],
  ['TESS Year 1 detrended', 1130, 4],
  ['TESS Year 3 Full-Frame Images (10-minute cadence)', 478, 317],
  ['TESS Year 3 detrended', 1130, 317],
  ['ASTEP Rc 2020.8.10', 261, 629],
  ['ASTEP Rc 2020.8.28', 695, 629],
  ['LCOGT-SSO B/zs 2021.2.7', 1130, 629]
];

var legendText = { fontFamily: SANS, fontSize: 17, color: '#111', padding: [0, 0, 0, 5] };
var option = {
  animation: false,
  backgroundColor: '#fff',
  textStyle: { fontFamily: SANS },
  grid: grids,
  xAxis: xAxes,
  yAxis: yAxes,
  legend: [
    { data: ['#1', '#2', '#3'], left: 1206, top: 143, orient: 'vertical', icon: 'circle',
      itemWidth: 22, itemHeight: 10, itemGap: 4, textStyle: legendText, selectedMode: false },
    { data: ['#1', '#2', '#3'], left: 1206, top: 453, orient: 'vertical', icon: 'circle',
      itemWidth: 22, itemHeight: 10, itemGap: 4, textStyle: legendText, selectedMode: false },
    { data: ['B', 'zs'], left: 1007, top: 780, orient: 'vertical', icon: 'circle',
      itemWidth: 22, itemHeight: 11, itemGap: 7, textStyle: legendText, selectedMode: false }
  ],
  graphic: { elements: titles.map(function (t) {
    return { type: 'text', x: t[1], y: t[2], silent: true,
      style: { text: t[0], fill: '#000', font: '22.6px "DejaVu Sans"',
        textAlign: 'center', textVerticalAlign: 'top', align: 'center', verticalAlign: 'top' } };
  }) },
  series: series
};

var chart = echarts.init(document.getElementById('main'), null, { renderer: 'canvas' });
chart.setOption(option);
</script>
</body>
</html>
